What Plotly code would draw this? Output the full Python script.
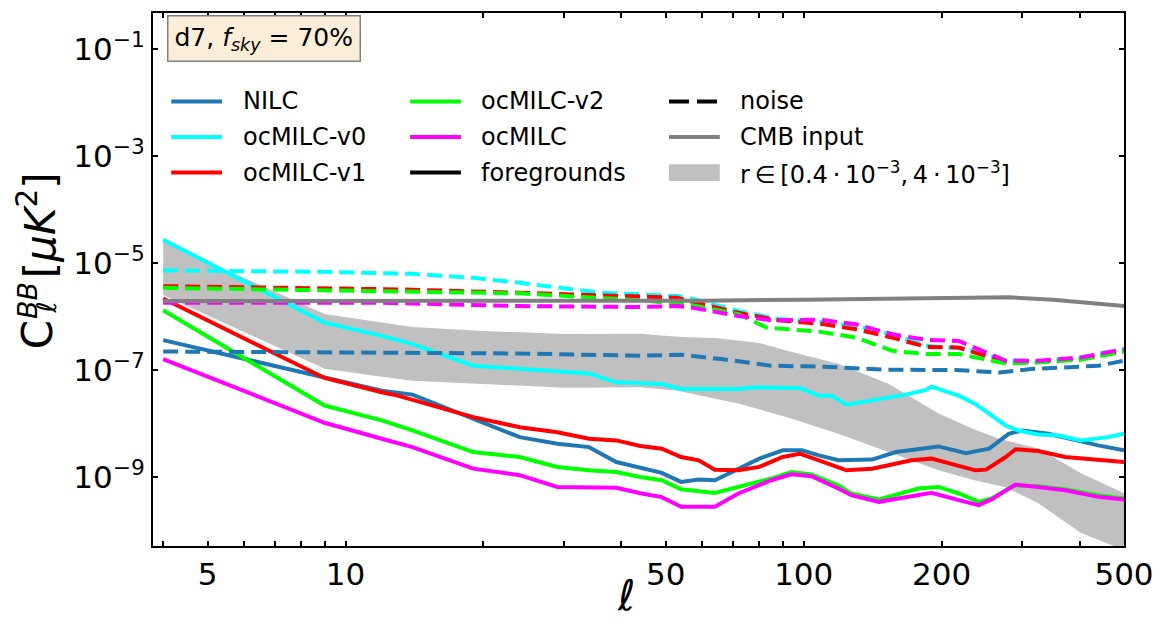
import plotly.graph_objects as go

# ---------------- data ----------------
ell_cmb = [4, 10, 30, 60, 100, 150, 220, 280, 350, 420, 500]
cmb = [1.94e-6, 1.94e-6, 1.94e-6, 1.97e-6, 2.05e-6, 2.15e-6, 2.30e-6, 2.28e-6, 2.05e-6, 1.75e-6, 1.56e-6]

ell_band_lo = [4, 9, 12, 14, 30, 44, 53, 72, 92, 119, 153, 197, 236, 276, 325, 403, 500]
band_lo = [2.51e-6, 1.05e-7, 7.47e-8, 6.30e-8, 4.67e-8, 4.73e-8, 4.10e-8, 2.35e-8, 1.31e-8, 6.41e-9,
           2.92e-9, 1.33e-9, 8.69e-10, 6.43e-10, 3.24e-10, 8.97e-11, 4.32e-11]
ell_band_hi = [4, 9, 14, 20, 30, 44, 53, 65, 80, 92, 119, 153, 197, 233, 266, 325, 403, 500]
band_hi = [2.53e-5, 1.11e-6, 6.37e-7, 5.36e-7, 4.71e-7, 4.77e-7, 4.15e-7, 3.9e-7, 3.2e-7, 2.28e-7,
           1.30e-7, 5.54e-8, 1.53e-8, 8.05e-9, 5.25e-9, 3.4e-9, 1.17e-9, 4.97e-10]

ell_nilc = [4, 9, 12, 14, 19, 24, 29, 34, 39, 44, 49, 54, 59, 64, 72, 80, 90, 99, 108, 119, 141, 159,
            197, 226, 254, 280, 300, 325, 342, 439, 500]
nilc = [3.60e-7, 7.26e-8, 4.10e-8, 3.46e-8, 1.22e-8, 5.55e-9, 4.18e-9, 3.61e-9, 1.90e-9, 1.45e-9,
        1.19e-9, 8.08e-10, 8.95e-10, 8.69e-10, 1.43e-9, 2.20e-9, 3.14e-9, 3.14e-9, 2.53e-9, 2.05e-9,
        2.11e-9, 2.92e-9, 3.72e-9, 2.79e-9, 3.38e-9, 6.41e-9, 7.40e-9, 6.9e-9, 6.41e-9, 3.89e-9, 3.14e-9]

ell_v0 = [4, 9, 12, 14, 19, 24, 29, 34, 39, 49, 54, 72, 79, 98, 108, 115, 124, 141, 167, 185, 190,
          218, 237, 276, 294, 325, 360, 403, 462, 500]
v0 = [2.72e-5, 7.65e-7, 4.33e-7, 3.03e-7, 1.20e-7, 1.04e-7, 9.38e-8, 8.61e-8, 5.86e-8, 5.47e-8,
      4.42e-8, 4.42e-8, 4.73e-8, 4.61e-8, 3.31e-8, 3.31e-8, 2.25e-8, 2.67e-8, 3.46e-8, 4.23e-8,
      4.87e-8, 3.31e-8, 2.32e-8, 9.16e-9, 7.40e-9, 6.22e-9, 5.97e-9, 4.82e-9, 5.55e-9, 6.41e-9]

ell_v1 = [4, 9, 12, 13, 19, 24, 29, 34, 39, 44, 49, 54, 59, 64, 72, 80, 90, 98, 108, 124, 141, 172,
          190, 218, 237, 250, 276, 290, 325, 372, 440, 500]
v1 = [2.17e-6, 7.08e-8, 3.82e-8, 3.31e-8, 1.31e-8, 8.52e-9, 6.87e-9, 5.18e-9, 4.82e-9, 3.8e-9,
      3.38e-9, 2.36e-9, 2.05e-9, 1.37e-9, 1.33e-9, 1.54e-9, 2.36e-9, 2.72e-9, 2.05e-9, 1.33e-9,
      1.43e-9, 2.05e-9, 2.20e-9, 1.65e-9, 1.33e-9, 1.37e-9, 2.36e-9, 3.3e-9, 3.05e-9, 2.36e-9,
      2.05e-9, 1.90e-9]

ell_v2 = [4, 9, 12, 14, 19, 24, 29, 34, 39, 44, 49, 54, 64, 72, 85, 94, 104, 119, 127, 146, 167, 178,
          197, 218, 241, 257, 276, 290, 325, 372, 440, 500]
v2 = [1.30e-6, 2.16e-8, 1.14e-8, 7.40e-9, 2.92e-9, 2.36e-9, 1.54e-9, 1.33e-9, 1.24e-9, 1.0e-9,
      8.69e-10, 5.9e-10, 5.04e-10, 6.51e-10, 9.34e-10, 1.24e-9, 1.12e-9, 7.00e-10, 4.91e-10, 3.80e-10,
      5.26e-10, 6.08e-10, 6.51e-10, 4.91e-10, 3.43e-10, 3.97e-10, 5.65e-10, 7.00e-10, 6.71e-10,
      5.9e-10, 4.57e-10, 3.97e-10]

ell_oc = [4, 9, 12, 14, 19, 24, 29, 34, 39, 44, 49, 54, 64, 72, 85, 94, 104, 119, 127, 146, 167, 190,
          218, 241, 257, 276, 290, 325, 372, 440, 500]
oc = [1.60e-7, 1.03e-8, 5.18e-9, 3.61e-9, 1.43e-9, 1.08e-9, 6.51e-10, 6.51e-10, 6.3e-10, 4.97e-10,
      4.2e-10, 2.77e-10, 2.77e-10, 4.91e-10, 8.69e-10, 1.12e-9, 1.03e-9, 6.08e-10, 4.57e-10, 3.43e-10,
      4.25e-10, 5.04e-10, 3.69e-10, 2.98e-10, 3.80e-10, 5.65e-10, 7.2e-10, 6.51e-10, 5.65e-10,
      4.25e-10, 3.80e-10]

ell_nz_nilc = [4, 13, 24, 44, 54, 66, 85, 110, 153, 215, 267, 314, 440, 500]
nz_nilc = [2.21e-7, 2.12e-7, 2.03e-7, 1.84e-7, 1.92e-7, 1.60e-7, 1.20e-7, 1.15e-7, 1.01e-7, 9.96e-8,
           8.98e-8, 1.04e-7, 1.20e-7, 1.48e-7]

ell_nz_v0 = [4, 9, 14, 19, 24, 29, 36, 44, 53, 56, 72, 88, 108, 130, 156, 185, 218, 233, 276, 325, 403, 500]
nz_v0 = [7.22e-6, 6.81e-6, 6.24e-6, 5.26e-6, 4.25e-6, 3.42e-6, 2.77e-6, 2.58e-6, 2.40e-6, 2.23e-6,
         1.26e-6, 8.97e-7, 7.98e-7, 6.64e-7, 4.65e-7, 2.82e-7, 2.55e-7, 2.28e-7, 1.53e-7, 1.44e-7,
         1.71e-7, 2.45e-7]

ell_nz_v1 = [4, 13, 24, 44, 53, 56, 72, 88, 108, 130, 156, 185, 218, 241, 276, 325, 403, 500]
nz_v1 = [3.68e-6, 3.20e-6, 2.77e-6, 2.30e-6, 2.23e-6, 1.94e-6, 1.17e-6, 8.48e-7, 7.33e-7, 5.77e-7,
         4.03e-7, 2.70e-7, 2.62e-7, 2.0e-7, 1.44e-7, 1.44e-7, 1.6e-7, 2.28e-7]

ell_nz_v2 = [4, 13, 24, 44, 56, 72, 83, 108, 130, 156, 185, 218, 241, 276, 325, 403, 500]
nz_v2 = [3.42e-6, 2.97e-6, 2.70e-6, 2.0e-6, 1.68e-6, 1.10e-6, 6.18e-7, 5.20e-7, 4.03e-7, 2.28e-7,
         1.98e-7, 1.98e-7, 1.66e-7, 1.32e-7, 1.38e-7, 1.55e-7, 2.2e-7]

ell_nz_oc = [4, 12, 24, 44, 53, 56, 72, 85, 108, 130, 156, 185, 218, 241, 276, 325, 403, 500]
nz_oc = [1.80e-6, 1.80e-6, 1.56e-6, 1.50e-6, 1.56e-6, 1.50e-6, 1.02e-6, 8.48e-7, 8.71e-7, 7.14e-7,
         4.65e-7, 3.65e-7, 3.49e-7, 2.45e-7, 1.48e-7, 1.48e-7, 1.71e-7, 2.45e-7]

x_major_vals = [5, 10, 50, 100, 200, 500]
x_major_labels = ["5", "10", "50", "100", "200", "500"]
x_minor_vals = [4, 6, 7, 8, 9, 20, 30, 40, 60, 70, 80, 90, 300, 400]
y_tick_vals = [1e-1, 1e-3, 1e-5, 1e-7, 1e-9]
y_tick_labels = ["10<sup>\u22121</sup>", "10<sup>\u22123</sup>", "10<sup>\u22125</sup>",
                 "10<sup>\u22127</sup>", "10<sup>\u22129</sup>"]

# ---------------- styling ----------------
FONT = "DejaVu Sans"
C_NILC, C_V0, C_V1, C_V2, C_OC = "#1f77b4", "#00ffff", "#ff0000", "#00ff00", "#ff00ff"
C_CMB, C_BAND = "#808080", "#c0c0c0"
LW = 4
DASH = "15px,7px"

W, H = 1164, 623
L, R, T, B = 152.7, 1128.0, 10.7, 546.0


def px(x):
    return (x - L) / (R - L)


def py(y):
    return (B - y) / (B - T)


fig = go.Figure()

# r-band
fig.add_trace(go.Scatter(x=ell_band_lo + ell_band_hi[::-1], y=band_lo + band_hi[::-1],
                         fill="toself", fillcolor=C_BAND, line=dict(width=0), mode="lines",
                         hoverinfo="skip", showlegend=False))

solids = [(ell_nilc, nilc, C_NILC), (ell_v0, v0, C_V0), (ell_v1, v1, C_V1),
          (ell_v2, v2, C_V2), (ell_oc, oc, C_OC)]
noises = [(ell_nz_nilc, nz_nilc, C_NILC), (ell_nz_v0, nz_v0, C_V0), (ell_nz_v1, nz_v1, C_V1),
          (ell_nz_v2, nz_v2, C_V2), (ell_nz_oc, nz_oc, C_OC)]
for ex, ey, col in solids:
    fig.add_trace(go.Scatter(x=ex, y=ey, mode="lines", line=dict(color=col, width=LW),
                             showlegend=False))
for ex, ey, col in noises:
    fig.add_trace(go.Scatter(x=ex, y=ey, mode="lines", line=dict(color=col, width=LW, dash=DASH),
                             showlegend=False))
fig.add_trace(go.Scatter(x=ell_cmb, y=cmb, mode="lines", line=dict(color=C_CMB, width=LW),
                         showlegend=False))

# ---------------- legend (3 columns, drawn in paper coordinates) ----------------
rows = [99.5, 135.3, 171.0]
cols = [(171, 222, 241), (411, 462, 480), (671, 722, 740)]
legend_items = [
    (0, 0, "NILC", C_NILC, "solid"), (0, 1, "ocMILC-v0", C_V0, "solid"), (0, 2, "ocMILC-v1", C_V1, "solid"),
    (1, 0, "ocMILC-v2", C_V2, "solid"), (1, 1, "ocMILC", C_OC, "solid"), (1, 2, "foregrounds", "black", "solid"),
    (2, 0, "noise", "black", "20px,8px"), (2, 1, "CMB input", C_CMB, "solid"),
    (2, 2, "r\u2009\u2208\u2009[0.4\u2009\u00b7\u200910<sup>\u22123</sup>,\u20094\u2009\u00b7\u200910<sup>\u22123</sup>]", C_BAND, "patch"),
]
shapes = []
annotations = []
for c, r, label, col, style in legend_items:
    x0, x1, xt = cols[c]
    yy = rows[r]
    if style == "patch":
        shapes.append(dict(type="rect", xref="paper", yref="paper", x0=px(x0), x1=px(x1),
                           y0=py(yy + 8.5), y1=py(yy - 8.5), fillcolor=col, line=dict(width=0)))
    else:
        shapes.append(dict(type="line", xref="paper", yref="paper", x0=px(x0), x1=px(x1),
                           y0=py(yy), y1=py(yy), line=dict(color=col, width=4, dash=style)))
    annotations.append(dict(text=label, xref="paper", yref="paper", x=px(xt), y=py(yy),
                            xanchor="left", yanchor="middle", showarrow=False,
                            font=dict(family=FONT, size=24, color="black")))

# text box
annotations.append(dict(text="d7, <i>f</i><sub><i>sky</i></sub> = 70%", xref="paper", yref="paper",
                        x=px(167), y=py(13), xanchor="left", yanchor="top", showarrow=False,
                        font=dict(family=FONT, size=25, color="black"),
                        bgcolor="#faeed9", bordercolor="#808080", borderwidth=1.5, borderpad=6))

# y-axis title pieces (rotated)
yt = [("C", 37.5, 334, 42, False), ("BB", 26.5, 299.5, 27, True), ("\u2113", 45, 307, 27, True),
      ("[<i>\u03bcK</i><sup>2</sup>]", 37, 224, 42, False)]
for txt, xx, yy, fs, ital in yt:
    annotations.append(dict(text=("<i>%s</i>" % txt) if ital else txt, xref="paper", yref="paper",
                            x=px(xx), y=py(yy), xanchor="center", yanchor="middle", textangle=-90,
                            showarrow=False, font=dict(family=FONT, size=fs, color="black")))
# x-axis title
annotations.append(dict(text="<i>\u2113</i>", xref="paper", yref="paper", x=px(628), y=py(596),
                        xanchor="center", yanchor="middle", showarrow=False,
                        font=dict(family=FONT, size=42, color="black")))

fig.update_layout(
    width=W, height=H,
    margin=dict(l=L, r=W - R, t=T, b=H - B, pad=0),
    paper_bgcolor="white", plot_bgcolor="white",
    font=dict(family=FONT, color="black"),
    showlegend=False,
    shapes=shapes, annotations=annotations,
)
tick_style = dict(ticks="inside", ticklen=5, tickwidth=2, tickcolor="black")
fig.update_xaxes(type="log", range=[0.5798, 2.699], tickvals=x_major_vals, ticktext=x_major_labels,
                 minor=dict(tickvals=x_minor_vals, **tick_style), **tick_style,
                 showline=True, linewidth=2, linecolor="black", mirror="ticks",
                 showgrid=False, zeroline=False, tickfont=dict(family=FONT, size=31, color="black"))
fig.update_yaxes(type="log", range=[-10.29, -0.33], tickvals=y_tick_vals, ticktext=y_tick_labels,
                 **tick_style,
                 showline=True, linewidth=2, linecolor="black", mirror="ticks",
                 showgrid=False, zeroline=False, tickfont=dict(family=FONT, size=31, color="black"))

fig.write_html("out.html", config={"displayModeBar": False},
               post_script="document.body.style.margin='0px';document.body.style.overflow='hidden';")
